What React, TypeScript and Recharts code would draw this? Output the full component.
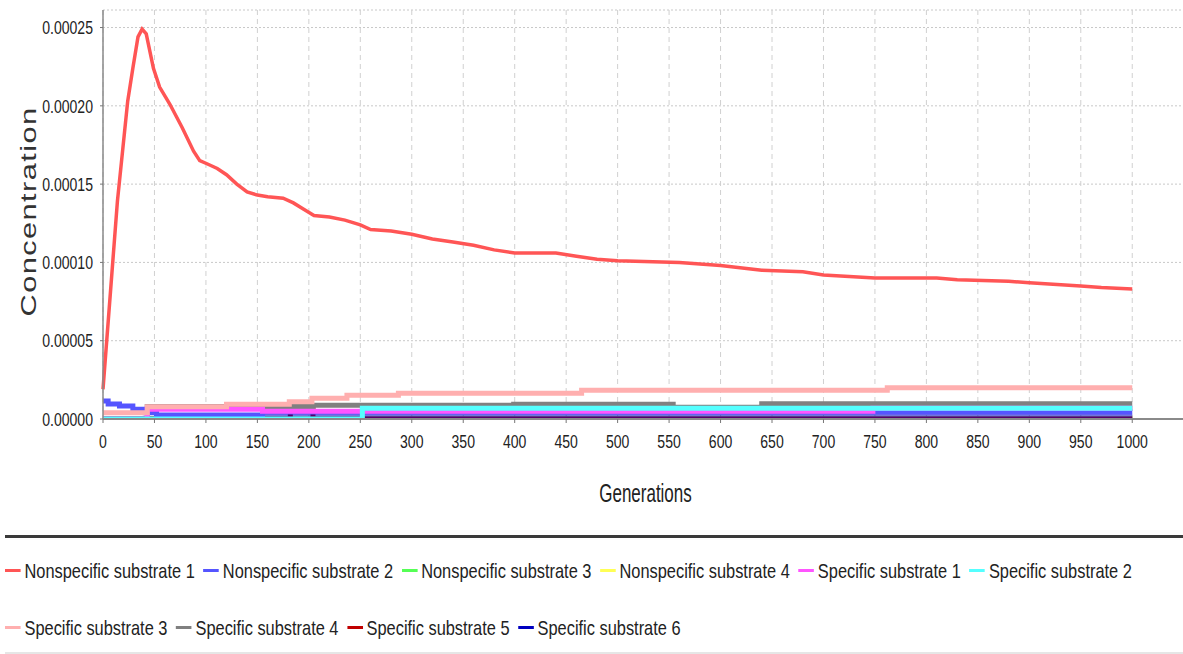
import React from 'react';
import { LineChart, Line, XAxis, YAxis, CartesianGrid, Legend } from 'recharts';

type P = { x: number; y: number };

const xTicks = [0, 50, 100, 150, 200, 250, 300, 350, 400, 450, 500, 550, 600, 650, 700, 750, 800, 850, 900, 950, 1000];
const yTicks = [0, 0.00005, 0.0001, 0.00015, 0.0002, 0.00025];

const nonspec1Gen = [0, 14, 24, 29, 34, 38, 42, 49, 55, 65, 77, 88, 94, 101, 111, 120, 130, 140, 150, 160, 175, 185, 195, 205, 220, 235, 250, 260, 280, 300, 320, 340, 360, 380, 400, 440, 460, 480, 500, 560, 600, 640, 680, 700, 750, 810, 830, 880, 900, 950, 970, 1000];
const nonspec1Val = [0.000019, 0.000139, 0.000203, 0.000224, 0.000244, 0.000249, 0.000246, 0.000224, 0.000212, 0.000201, 0.000186, 0.000171, 0.000165, 0.000163, 0.00016, 0.000156, 0.00015, 0.000145, 0.000143, 0.000142, 0.000141, 0.000138, 0.000134, 0.00013, 0.000129, 0.000127, 0.000124, 0.000121, 0.00012, 0.000118, 0.000115, 0.000113, 0.000111, 0.000108, 0.000106, 0.000106, 0.000104, 0.000102, 0.000101, 0.0001, 0.000098, 0.000095, 0.000094, 0.000092, 0.00009, 0.00009, 0.000089, 0.000088, 0.000087, 0.000085, 0.000084, 0.000083];

const nonspec2Gen = [0, 5, 16, 29, 41, 52, 155, 1000];
const nonspec2Val = [0.0000115, 0.0000096, 0.0000083, 0.0000062, 0.000004, 0.0000026, 0.0000045, 0.0000045];

const nonspec3Gen = [0, 1000];
const nonspec3Val = [0, 0];

const nonspec4Gen = [0, 1000];
const nonspec4Val = [0, 0];

const spec1Gen = [0, 43, 155, 748, 1000];
const spec1Val = [0, 0.0000062, 0.0000049, 0.0000068, 0.0000068];

const spec2Gen = [0, 252, 1000];
const spec2Val = [0, 0.0000068, 0.0000068];

const spec3Gen = [0, 43, 120, 181, 203, 237, 287, 465, 762, 1000];
const spec3Val = [0.000004, 0.0000079, 0.0000094, 0.000011, 0.0000132, 0.0000152, 0.0000165, 0.0000183, 0.00002, 0.00002];

const spec4Gen = [0, 43, 204, 399, 554, 640, 1000];
const spec4Val = [0, 0.000008, 0.0000088, 0.0000094, 0.0000075, 0.0000097, 0.0000097];

const spec5Gen = [0, 182, 204, 1000];
const spec5Val = [0, 0.0000073, 0, 0];

const spec6Gen = [0, 155, 1000];
const spec6Val = [0, 0.0000018, 0.0000018];

const zip = (g: number[], v: number[]): P[] => g.map((x, i) => ({ x, y: v[i] }));

const series = [
  { name: 'Nonspecific substrate 1', color: '#ff5555', data: zip(nonspec1Gen, nonspec1Val), type: 'linear' },
  { name: 'Nonspecific substrate 2', color: '#5555ff', data: zip(nonspec2Gen, nonspec2Val), type: 'stepAfter' },
  { name: 'Nonspecific substrate 3', color: '#55ff55', data: zip(nonspec3Gen, nonspec3Val), type: 'stepAfter' },
  { name: 'Nonspecific substrate 4', color: '#ffff55', data: zip(nonspec4Gen, nonspec4Val), type: 'stepAfter' },
  { name: 'Specific substrate 1', color: '#ff55ff', data: zip(spec1Gen, spec1Val), type: 'stepAfter' },
  { name: 'Specific substrate 2', color: '#55ffff', data: zip(spec2Gen, spec2Val), type: 'stepAfter' },
  { name: 'Specific substrate 3', color: '#ffafaf', data: zip(spec3Gen, spec3Val), type: 'stepAfter' },
  { name: 'Specific substrate 4', color: '#808080', data: zip(spec4Gen, spec4Val), type: 'stepAfter' },
  { name: 'Specific substrate 5', color: '#c00000', data: zip(spec5Gen, spec5Val), type: 'stepAfter' },
  { name: 'Specific substrate 6', color: '#0000c0', data: zip(spec6Gen, spec6Val), type: 'stepAfter' },
];

// drawing order (bottom -> top)
const drawOrder = [
  'Nonspecific substrate 3',
  'Nonspecific substrate 4',
  'Specific substrate 5',
  'Specific substrate 4',
  'Specific substrate 6',
  'Nonspecific substrate 2',
  'Specific substrate 1',
  'Specific substrate 2',
  'Specific substrate 3',
  'Nonspecific substrate 1',
];

const FONT = '"Liberation Sans", Arial, sans-serif';
const SX = 0.74;

const XTick = (props: any) => {
  const { x, y, payload } = props;
  return (
    <text transform={`translate(${x}, ${y}) scale(${SX}, 1)`} textAnchor="middle" dy="0.71em" fontSize={19} fontFamily={FONT} fill="#222">
      {payload.value}
    </text>
  );
};

const YTick = (props: any) => {
  const { x, y, payload } = props;
  return (
    <text transform={`translate(${x}, ${y}) scale(${SX}, 1)`} textAnchor="end" dy="0.355em" fontSize={19} fontFamily={FONT} fill="#222">
      {Number(payload.value).toFixed(5)}
    </text>
  );
};

const YTitle = (props: any) => {
  const vb = props.viewBox || { x: 0, y: 10, width: 103, height: 408 };
  const cy = vb.y + vb.height / 2 - 3;
  return (
    <text
      transform={`translate(36, ${cy}) rotate(-90) scale(1.4, 1)`}
      textAnchor="middle"
      fontFamily={FONT}
      fontSize={22}
      letterSpacing={1}
      fill="#333"
    >
      Concentration
    </text>
  );
};

const XTitle = (props: any) => {
  const vb = props.viewBox || { x: 103, y: 418, width: 1090, height: 116 };
  const cx = vb.x + vb.width / 2 - 3;
  return (
    <text transform={`translate(${cx}, 502) scale(0.68, 1)`} textAnchor="middle" fontFamily={FONT} fontSize={25} fill="#222">
      Generations
    </text>
  );
};

const LS = 0.78;

const LegendContent = () => (
  <div
    style={{
      width: 1183,
      height: 119,
      boxSizing: 'border-box',
      borderTop: '3px solid #3a3a3a',
      borderBottom: '2px solid #e6e6e6',
      marginLeft: 5,
      overflow: 'hidden',
    }}
  >
    <div
      style={{
        width: 1178 / LS,
        transform: `scaleX(${LS})`,
        transformOrigin: '0 0',
        paddingTop: 4,
        display: 'flex',
        flexWrap: 'wrap',
        alignContent: 'flex-start',
        fontFamily: FONT,
        fontSize: 21,
        color: '#222',
      }}
    >
      {series.map((s) => (
        <div key={s.name} style={{ display: 'flex', alignItems: 'center', height: 57, marginRight: 11 }}>
          <div style={{ width: 20, height: 3, background: s.color, marginRight: 5 }} />
          <span style={{ whiteSpace: 'nowrap' }}>{s.name}</span>
        </div>
      ))}
    </div>
  </div>
);

export default function App() {
  return (
    <div style={{ position: 'absolute', left: 0, top: 0, width: 1183, height: 654, overflow: 'hidden', background: '#fff' }}>
      <LineChart width={1200} height={654} margin={{ top: 10, right: 6, left: 0, bottom: 0 }}>
        <CartesianGrid horizontal={true} vertical={false} stroke="#c8c8c8" strokeDasharray="2 2" />
        <CartesianGrid horizontal={false} vertical={true} stroke="#d0d0d0" strokeDasharray="5 4" />
        <XAxis
          xAxisId="top"
          orientation="top"
          type="number"
          dataKey="x"
          domain={[0, 1060]}
          tick={false}
          tickLine={false}
          height={0}
          axisLine={{ stroke: '#b8b8b8', strokeWidth: 2 }}
        />
        <XAxis
          type="number"
          dataKey="x"
          domain={[0, 1060]}
          ticks={xTicks}
          interval={0}
          height={116}
          tickSize={4}
          tickMargin={12}
          tickLine={{ stroke: '#777' }}
          axisLine={{ stroke: '#8a8a8a', strokeWidth: 2 }}
          tick={<XTick />}
          label={{ content: (p: any) => <XTitle {...p} /> }}
        />
        <YAxis
          type="number"
          domain={[0, 0.0002612]}
          allowDataOverflow
          ticks={yTicks}
          interval={0}
          width={103}
          tickSize={3}
          tickMargin={7}
          tickLine={{ stroke: '#777' }}
          axisLine={{ stroke: '#8a8a8a', strokeWidth: 1.5 }}
          tick={<YTick />}
          label={{ content: (p: any) => <YTitle {...p} /> }}
        />
        <Legend verticalAlign="bottom" align="left" wrapperStyle={{ left: 0, width: 1183 }} content={() => <LegendContent />} />
        {drawOrder.map((n) => {
          const s = series.find((q) => q.name === n)!;
          const isRed = s.name === 'Nonspecific substrate 1';
          return (
            <Line
              key={s.name}
              name={s.name}
              data={s.data}
              dataKey="y"
              type={s.type as any}
              stroke={s.color}
              strokeWidth={isRed ? 3.5 : 5}
              strokeOpacity={s.name === 'Specific substrate 6' ? 0.55 : 1}
              dot={false}
              activeDot={false}
              isAnimationActive={false}
              legendType="line"
            />
          );
        })}
      </LineChart>
    </div>
  );
}
